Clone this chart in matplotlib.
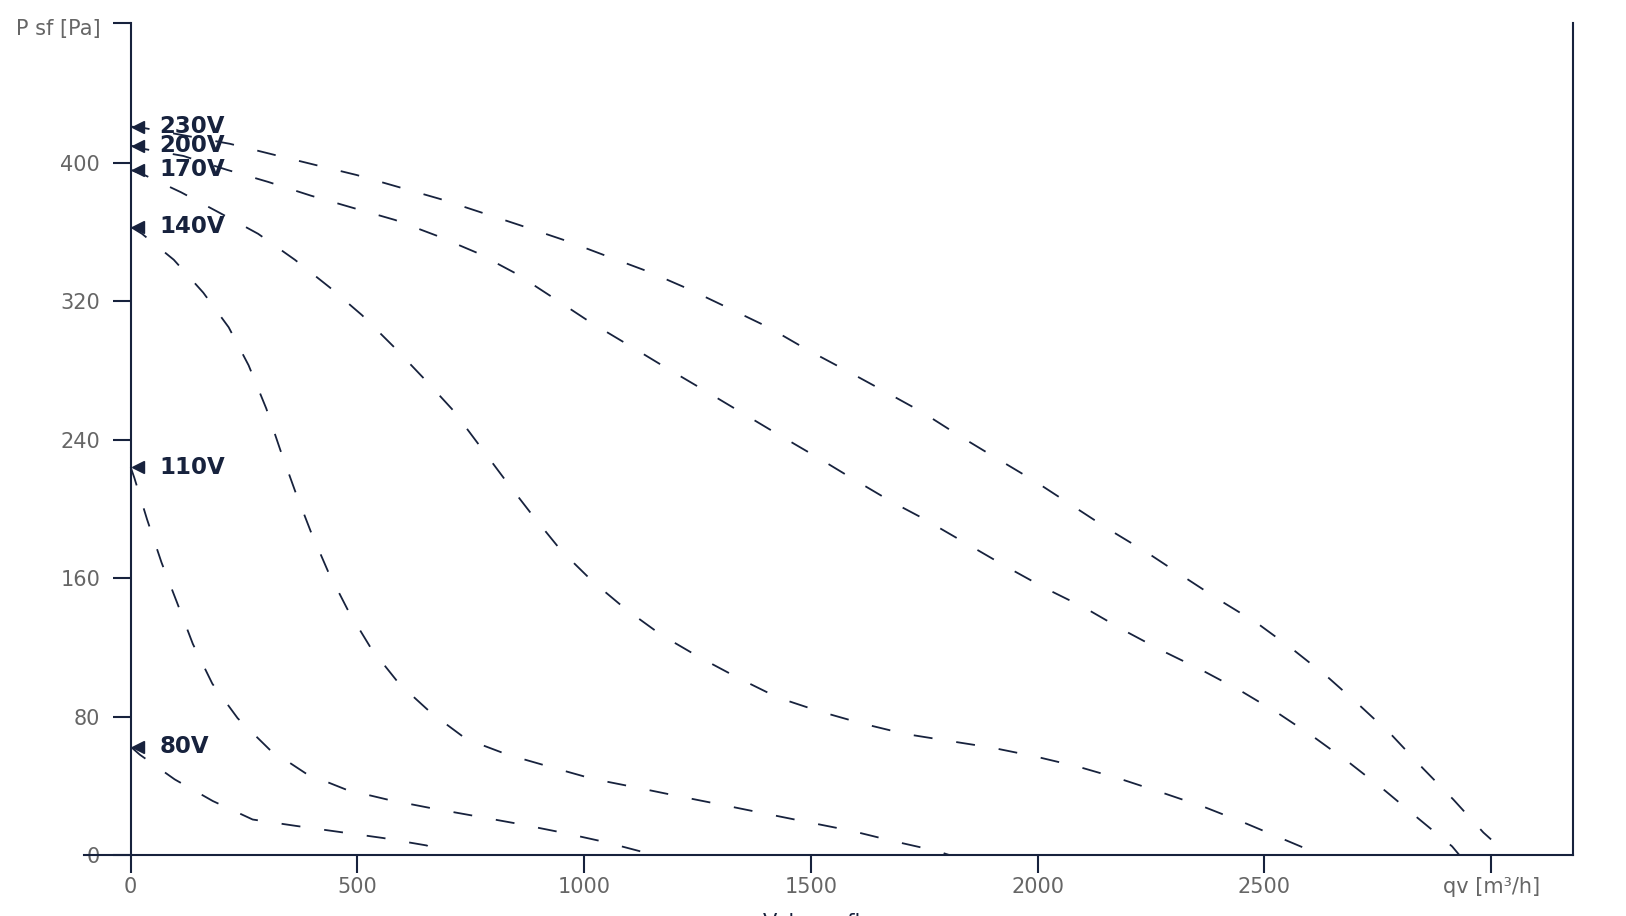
import matplotlib
matplotlib.use("Agg")
import matplotlib.pyplot as plt
import matplotlib.transforms as mtransforms

# fan curves (qv in m3/h, P sf in Pa)
voltages = ["230V", "200V", "170V", "140V", "110V", "80V"]

q230 = [0, 32, 219, 311, 404, 498, 591, 684, 777, 858, 960, 1051, 1143, 1231, 1319, 1406,
        1492, 1578, 1662, 1745, 1829, 1911, 1994, 2076, 2158, 2240, 2321, 2403, 2484, 2562,
        2639, 2712, 2782, 2850, 2917, 2983, 3000]
p230 = [421, 420, 411, 405, 399, 393, 386, 379, 371, 364, 355, 346, 337, 327, 316, 305,
        292, 280, 268, 256, 242, 229, 216, 202, 188, 175, 161, 147, 134, 119,
        103, 86, 69, 50, 32, 13, 9]

q200 = [0, 30, 116, 212, 303, 398, 490, 583, 674, 764, 850, 932, 1013, 1096, 1178, 1262,
        1345, 1428, 1513, 1595, 1679, 1744, 1935, 2018, 2103, 2189, 2275, 2361, 2447, 2530,
        2610, 2689, 2767, 2840, 2914, 2930]
p200 = [410, 408, 404, 396, 389, 381, 374, 367, 358, 348, 336, 322, 308, 295, 282, 269,
        256, 243, 230, 217, 204, 195, 166, 154, 143, 130, 118, 107, 95, 82,
        68, 53, 37, 21, 5, 0]

q170 = [0, 30, 111, 197, 281, 362, 439, 510, 579, 648, 711, 771, 828, 887, 949, 1019,
        1092, 1171, 1256, 1342, 1427, 1519, 1613, 1707, 1803, 1900, 1994, 2090, 2182, 2275,
        2365, 2457, 2546, 2625]
p170 = [396, 393, 383, 371, 359, 344, 328, 312, 294, 275, 257, 236, 216, 196, 176, 158,
        142, 127, 114, 102, 91, 83, 76, 70, 66, 62, 57, 51, 44, 36,
        28, 18.5, 8.7, 0]

q140 = [0, 25, 95, 160, 216, 260, 299, 330, 363, 397, 435, 480, 531, 592, 663, 740,
        831, 924, 1019, 1115, 1208, 1304, 1398, 1493, 1589, 1682, 1778, 1805]
p140 = [363, 359, 344, 325, 305, 283, 258, 234, 210, 187, 164, 141, 119, 99, 82, 67,
        58, 51, 44, 39, 34, 29, 24, 19, 14, 8, 2.3, 0]

q110 = [0, 8, 36, 68, 102, 137, 180, 236, 306, 387, 477, 570, 664, 760, 855, 951, 1046, 1130, 1145]
p110 = [224, 218, 194, 169, 146, 122, 99, 79, 61, 47, 37.6, 31.8, 27, 22.5, 18, 13, 7.5, 1.7, 0]

q80 = [0, 20, 97, 181, 269, 365, 461, 557, 653, 680]
p80 = [62.6, 58, 43.7, 31.2, 20.5, 16.8, 13.3, 9.8, 5.5, 0]

curves = [(q230, p230), (q200, p200), (q170, p170), (q140, p140), (q110, p110), (q80, p80)]

xticks = [0, 500, 1000, 1500, 2000, 2500, 3000]
xlabels = ["0", "500", "1000", "1500", "2000", "2500", "qv [m³/h]"]
yticks = [0, 80, 160, 240, 320, 400, 481]
ylabels = ["0", "80", "160", "240", "320", "400", "P sf [Pa]"]

navy = "#17223d"
grey = "#666666"

fig = plt.figure(figsize=(16.26, 9.16), dpi=100)
ax = fig.add_axes([84 / 1626, 1 - 855 / 916, (1572.7 - 84) / 1626, (855 - 22.7) / 916])
ax.set_xlim(-103, 3180)
ax.set_ylim(0, 481)

for q, p in curves:
    ax.plot(q, p, color=navy, lw=1.3, linestyle=(0, (10.5, 13.3)), clip_on=False)

# voltage markers on the y axis
for name, (q, p) in zip(voltages, curves):
    ax.plot(17, p[0], marker="<", ms=8.5, color=navy, clip_on=False, zorder=5)
    ax.text(64, p[0], name, ha="left", va="center", fontsize=16.5, fontweight="bold",
            family="DejaVu Sans", color=navy, zorder=6)

ax.spines["top"].set_visible(False)
ax.spines["left"].set_position(("data", 0))
for s in ["left", "right", "bottom"]:
    ax.spines[s].set_color(navy)
    ax.spines[s].set_linewidth(1.5)

ax.set_xticks(xticks)
ax.set_xticklabels(xlabels)
ax.set_yticks(yticks)
ax.set_yticklabels(ylabels)
ax.tick_params(axis="x", length=13, width=1.5, color=navy, pad=3,
               labelsize=15, labelcolor=grey)
ax.tick_params(axis="y", length=13, width=1.5, color=navy, pad=9,
               labelsize=15, labelcolor=grey)
for lab in ax.get_xticklabels() + ax.get_yticklabels():
    lab.set_family("DejaVu Sans")

# the axis-name label at the top sits a little lower than its tick
top = ax.get_yticklabels()[-1]
top.set_transform(top.get_transform() + mtransforms.ScaledTranslation(0, -3 / 72, fig.dpi_scale_trans))

# axis title, mostly cut off at the bottom edge like in the source
fig.text(827 / 1626, 1 - 913 / 916, "Volume flow", ha="center", va="top",
         fontsize=15, family="DejaVu Sans", color=navy)

fig.savefig("out.png", dpi=100)
